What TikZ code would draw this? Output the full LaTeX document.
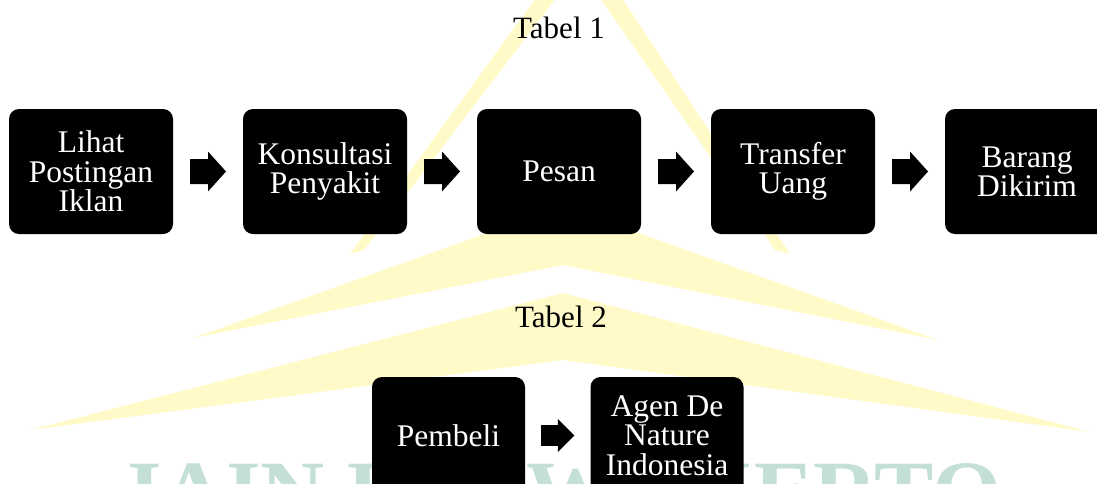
\documentclass[tikz,border=0pt]{standalone}
\usepackage{fontspec}
\setmainfont{Liberation Serif}
\usetikzlibrary{calc}
\definecolor{wmyellow}{RGB}{255,250,200}
\definecolor{wmteal}{RGB}{196,224,212}
\begin{document}
\begin{tikzpicture}[x=1pt,y=-1pt,
  stepbox/.style={fill=black, text=white, rounded corners=10pt, inner sep=0pt,
    align=center, font=\fontsize{31.5}{29.5}\selectfont},
  rowone/.style={stepbox, minimum width=164pt, minimum height=125pt},
  rowtwo/.style={stepbox, minimum width=153pt, minimum height=117pt},
  caption/.style={anchor=base, inner sep=0pt, font=\fontsize{31}{36}\selectfont},
  pics/blockarrow/.style={code={\fill[black] (-18,-12.5) -- (0,-12.5) -- (0,-20) -- (18,0) -- (0,20) -- (0,12.5) -- (-18,12.5) -- cycle;}}]
\useasboundingbox (0,0) rectangle (1097,483);
\clip (0,0) rectangle (1097,483);
% watermark
\fill[wmyellow] (350,254) -- (536,-2) -- (622,-2) -- (790,254) -- (775,250) -- (600,-2) -- (556,-2) -- (364,250) -- cycle;
\fill[wmyellow] (193,338) -- (563,206) -- (938,340) -- (563,265) -- cycle;
\fill[wmyellow] (30,430) -- (563,293) -- (1090,432) -- (563,360) -- cycle;
\node[anchor=base west, inner sep=0pt, text=wmteal, font=\bfseries\fontsize{89}{89}\selectfont] (wm) at (127,522) {IAIN PURWOKERTO};
% captions
\node[caption] (t1) at (559,38) {Tabel 1};
\node[caption] (t2) at (561,327) {Tabel 2};
% row 1
\node[rowone] (b1) at (91,171.5) {Lihat\\Postingan\\Iklan};
\node[rowone] (b2) at (325,171.5) {Konsultasi\\Penyakit};
\node[rowone] (b3) at (559,171.5) {Pesan};
\node[rowone] (b4) at (793,171.5) {Transfer\\Uang};
\node[rowone] (b5) at (1027,171.5) {Barang\\Dikirim};
\coordinate (m1) at ($(b1.east)!0.5!(b2.west)$);
\coordinate (m2) at ($(b2.east)!0.5!(b3.west)$);
\coordinate (m3) at ($(b3.east)!0.5!(b4.west)$);
\coordinate (m4) at ($(b4.east)!0.5!(b5.west)$);
\pic at (m1) {blockarrow};
\pic at (m2) {blockarrow};
\pic at (m3) {blockarrow};
\pic at (m4) {blockarrow};
% row 2
\node[rowtwo] (p1) at (448.5,435.5) {Pembeli};
\node[rowtwo] (p2) at (667,435.5) {Agen De\\Nature\\Indonesia};
\coordinate (m5) at ($(p1.east)!0.5!(p2.west)$);
\pic[xscale=0.92, yscale=0.83] at (m5) {blockarrow};
\end{tikzpicture}
\end{document}
